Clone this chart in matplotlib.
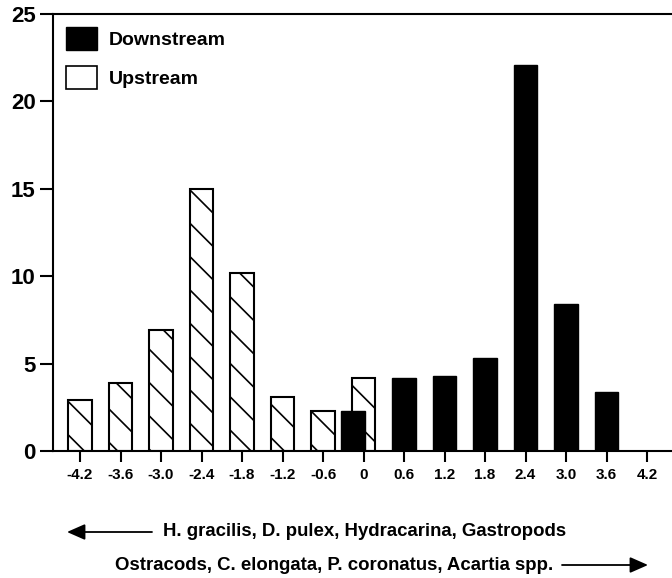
import matplotlib
matplotlib.use("Agg")
import matplotlib.pyplot as plt
from matplotlib.patches import Patch, FancyArrowPatch

# shift along the gradient (x) and % of catch
positions = [-4.2, -3.6, -3.0, -2.4, -1.8, -1.2, -0.6, 0.0, 0.6, 1.2, 1.8, 2.4, 3.0, 3.6, 4.2]
tick_labels = ["-4.2", "-3.6", "-3.0", "-2.4", "-1.8", "-1.2", "-0.6", "0",
               "0.6", "1.2", "1.8", "2.4", "3.0", "3.6", "4.2"]

upstream_x = [-4.2, -3.6, -3.0, -2.4, -1.8, -1.2, -0.6, 0.0]
upstream_y = [2.9, 3.9, 6.9, 15.0, 10.2, 3.1, 2.3, 4.2]

downstream_x = [0.0, 0.6, 1.2, 1.8, 2.4, 3.0, 3.6]
downstream_y = [2.3, 4.2, 4.3, 5.3, 22.1, 8.4, 3.4]

left_taxa = "H. gracilis, D. pulex, Hydracarina, Gastropods"
right_taxa = "Ostracods, C. elongata, P. coronatus, Acartia spp."

plt.rcParams["font.family"] = ["Liberation Sans", "DejaVu Sans"]
plt.rcParams["font.weight"] = "bold"
plt.rcParams["hatch.linewidth"] = 1.2

W, H = 672, 578
fig = plt.figure(figsize=(W / 100, H / 100), dpi=100)
ax = fig.add_axes([53 / W, 1 - 451 / H, 1 - 53 / W, (451 - 14) / H])

bar_w = 0.35
ax.bar(upstream_x, upstream_y, width=bar_w, facecolor="white", edgecolor="black",
       hatch="\\", linewidth=1.5, zorder=2)
# the downstream bar at 0 sits a little left, in front of the upstream one
dx = [x - 0.16 if x == 0 else x for x in downstream_x]
ax.bar(dx, downstream_y, width=bar_w, facecolor="black", edgecolor="black",
       linewidth=1.0, zorder=3)

ax.set_xlim(-4.6, 4.57)
ax.set_ylim(0, 25)
ax.set_xticks(positions)
ax.set_xticklabels(tick_labels, fontsize=11, fontweight="bold")
ax.set_yticks([0, 5, 10, 15, 20, 25])
ax.set_yticklabels(["0", "5", "10", "15", "20", "25"], fontsize=16, fontweight="bold")
ax.tick_params(axis="y", length=9.4, width=1.5, pad=3)
ax.tick_params(axis="x", length=8, width=1.5, pad=4)
for s in ("left", "top", "bottom"):
    ax.spines[s].set_linewidth(1.5)
ax.spines["right"].set_visible(False)

handles = [Patch(facecolor="black", edgecolor="black", label="Downstream"),
           Patch(facecolor="white", edgecolor="black", linewidth=1.2, label="Upstream")]
ax.legend(handles=handles, loc="upper left", frameon=False,
          handlelength=1.6, handleheight=1.45, labelspacing=0.85,
          borderaxespad=0.25, handletextpad=0.6,
          prop={"weight": "bold", "size": 14})

fig.text(163 / W, 1 - 532 / H, left_taxa, ha="left", va="center",
         fontsize=13.4, fontweight="bold")
fig.text(553 / W, 1 - 565 / H, right_taxa, ha="right", va="center",
         fontsize=13.4, fontweight="bold")

arrow = dict(arrowstyle="-|>,head_length=0.5,head_width=0.22", color="black",
             lw=1.3, mutation_scale=22, shrinkA=0, shrinkB=0)
fig.add_artist(FancyArrowPatch((152 / W, 1 - 532 / H), (67 / W, 1 - 532 / H),
                               transform=fig.transFigure, **arrow))
fig.add_artist(FancyArrowPatch((562 / W, 1 - 565 / H), (648 / W, 1 - 565 / H),
                               transform=fig.transFigure, **arrow))

fig.savefig("out.png", dpi=100, facecolor="white")
